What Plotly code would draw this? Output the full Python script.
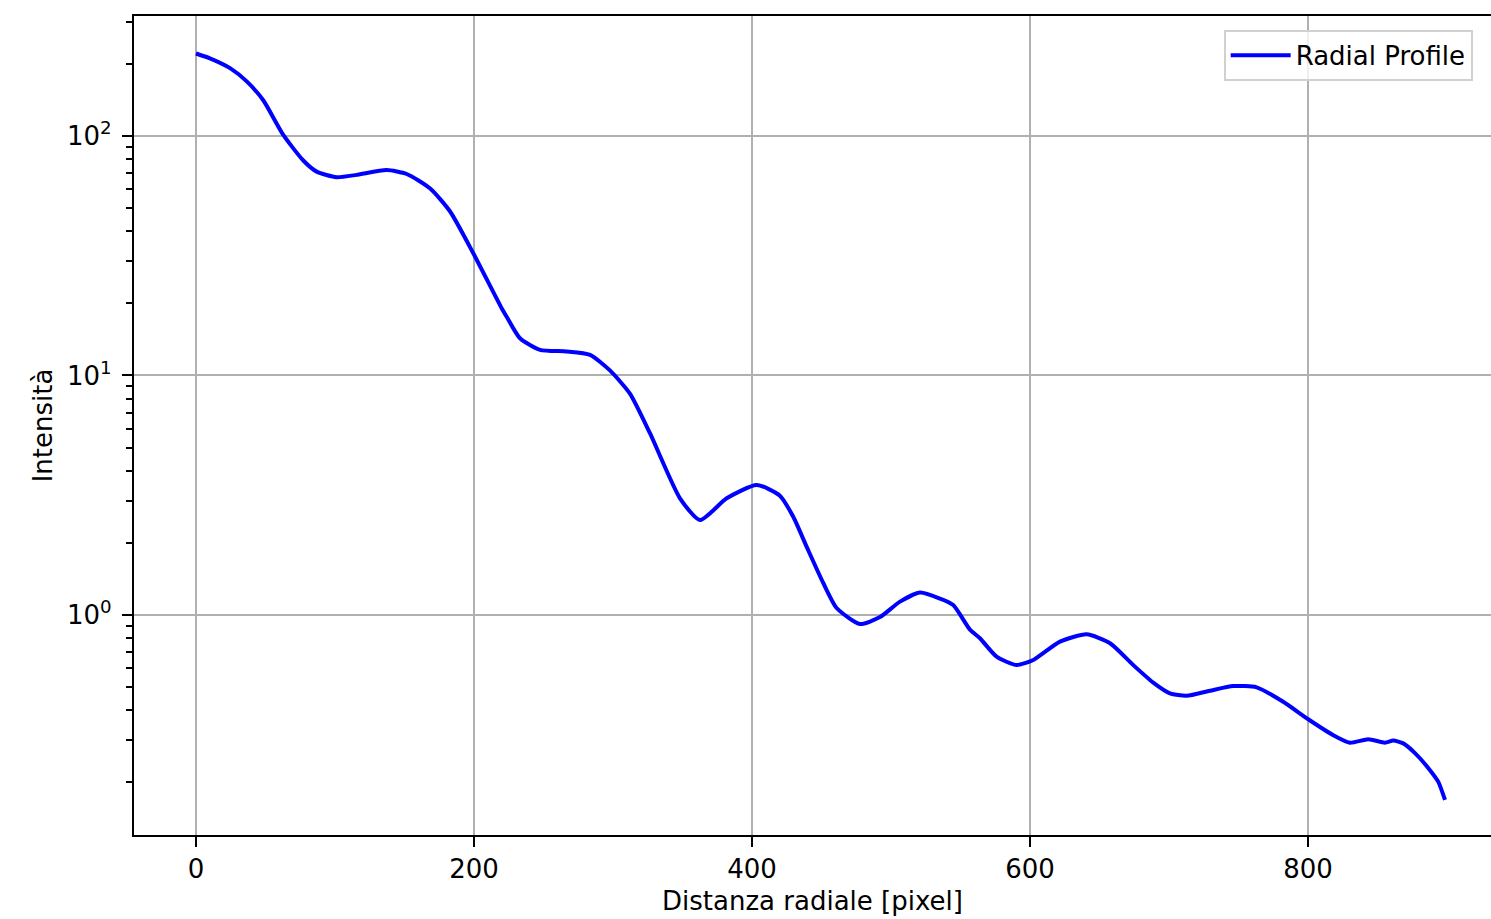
import plotly.graph_objects as go

# Radial distance [pixel] and intensity
distance = [0, 10, 24.5, 36.5, 48.4, 62.8, 77.2, 86.8, 101.2, 115.6, 137.2, 151.6,
            168.3, 182.7, 199.5, 219.9, 223.5, 233.1, 247.5, 266.7, 283.5, 297.8,
            312.2, 326.6, 348.2, 362.6, 381.8, 403.4, 420.1, 429.7, 439.3, 451.3,
            460.9, 477.7, 492.1, 506.5, 520.9, 535.3, 544.8, 557.0, 564.0, 576.0,
            590.4, 602.4, 621.6, 640.8, 657.6, 674.3, 688.7, 700.7, 712.7, 729.5,
            746.3, 763.1, 782.2, 800.2, 818.2, 830.2, 843.4, 855.4, 861.4, 868.6,
            877.0, 887.8, 893.8, 898.6]
intensity = [221, 211, 192, 169, 141, 101, 79, 71, 67.3, 68.8, 72.1, 69.4,
             60.5, 48.5, 32.4, 19.1, 17.6, 14.3, 12.8, 12.6, 12.2, 10.5,
             8.4, 5.74, 3.07, 2.49, 3.07, 3.49, 3.15, 2.57, 1.93, 1.36,
             1.07, 0.917, 0.98, 1.137, 1.24, 1.17, 1.10, 0.866, 0.80, 0.67,
             0.618, 0.649, 0.774, 0.830, 0.762, 0.618, 0.522, 0.471, 0.460, 0.483,
             0.505, 0.499, 0.434, 0.367, 0.315, 0.293, 0.303, 0.293, 0.299, 0.291,
             0.265, 0.225, 0.201, 0.169]

x_ticks = [0, 200, 400, 600, 800]
y_major = [0.1, 1, 10, 100]
y_major_text = ["10<sup>-1</sup>", "10<sup>0</sup>", "10<sup>1</sup>", "10<sup>2</sup>"]
y_minor = [m * 10 ** k for k in (-1, 0, 1, 2) for m in range(2, 10)]

font = "DejaVu Sans, Liberation Sans, sans-serif"
FS = 26

fig = go.Figure()
fig.add_trace(go.Scatter(
    x=distance, y=intensity, mode="lines", name="Radial Profile",
    line=dict(color="#0000ff", width=4, shape="spline", smoothing=0.6),
))

fig.update_layout(
    width=1491, height=919,
    margin=dict(l=134, r=0, t=16, b=84, autoexpand=False),
    paper_bgcolor="white", plot_bgcolor="white",
    font=dict(family=font, size=FS, color="black"),
    showlegend=True,
    legend=dict(x=0.803, y=0.983, xanchor="left", yanchor="top",
                bgcolor="rgba(255,255,255,0.8)", bordercolor="#d0d0d0", borderwidth=2,
                font=dict(size=FS), itemwidth=60),
)
fig.update_xaxes(
    range=[-44.6, 931.7], tickvals=x_ticks, ticktext=[str(v) for v in x_ticks],
    showline=True, linecolor="black", linewidth=2.2, mirror=True,
    ticks="outside", ticklen=10, tickwidth=2.2, tickcolor="black",
    showgrid=True, gridcolor="#b0b0b0", gridwidth=2.2, zeroline=False,
    title=dict(text="Distanza radiale [pixel]", standoff=9, font=dict(size=FS)),
)
fig.update_yaxes(
    type="log", range=[-0.9186, 2.501],
    tickmode="array", tickvals=y_major, ticktext=y_major_text,
    showline=True, linecolor="black", linewidth=2.2, mirror=False,
    ticks="outside", ticklen=10, tickwidth=2.2, tickcolor="black",
    ticklabelstandoff=5,
    showgrid=True, gridcolor="#b0b0b0", gridwidth=2.2, zeroline=False,
    minor=dict(tickmode="array", tickvals=y_minor, ticks="outside", ticklen=6,
               tickwidth=1.7, tickcolor="black", showgrid=False),
    title=dict(text="Intensità", standoff=7, font=dict(size=FS)),
)

page_fix = ("document.body.style.margin='0';"
            "document.documentElement.style.overflow='hidden';")
fig.write_html("out.html", post_script=page_fix,
               config={"displayModeBar": False})
